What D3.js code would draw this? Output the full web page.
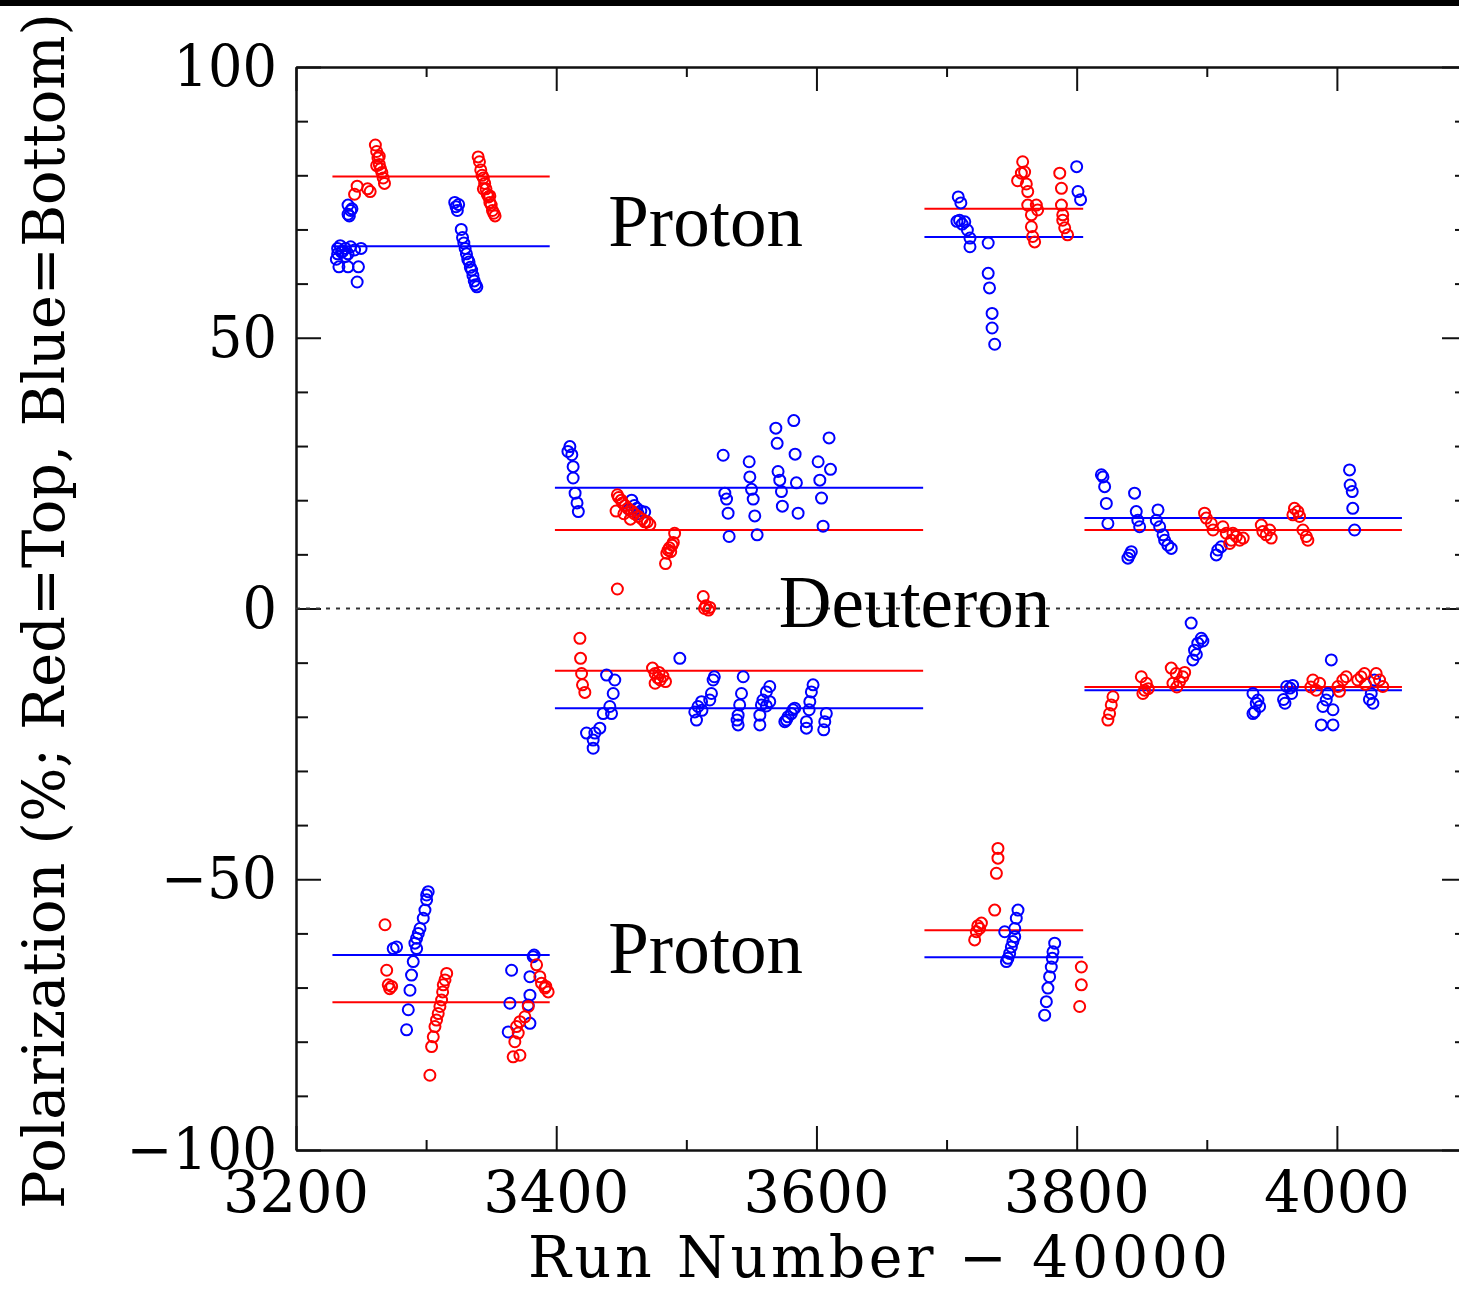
<!DOCTYPE html>
<html><head><meta charset="utf-8">
<script src="https://cdn.jsdelivr.net/npm/d3@7"></script>
<style>body{margin:0;background:#fff}svg{display:block}</style>
</head><body>
<svg id="c" width="1459" height="1290"></svg>
<script>
// ---- data ----
const xTicksMajor = [3200, 3400, 3600, 3800, 4000];
const xTicksMinor = [3300, 3500, 3700, 3900, 4100];
const yTicksMajor = [-100, -50, 0, 50, 100];
const yTicksMinor = [-90,-80,-70,-60,-40,-30,-20,-10,10,20,30,40,60,70,80,90];
const xLabel = "Run Number \u2212 40000";
const yLabel = "Polarization (%; Red=Top, Blue=Bottom)";
const annotations = [["Proton", 3440, 66.9], ["Deuteron", 3571, -3.4], ["Proton", 3440, -67.3]];

// mean lines: [runStart, runEnd, value]
const redMeans = [[3228,3395,79.8],[3683,3805,73.8],[3399,3682,14.5],[3399,3682,-11.5],[3806,4050,14.5],[3806,4050,-14.5],[3228,3395,-72.7],[3683,3805,-59.4]];
const blueMeans = [[3228,3395,66.9],[3683,3805,68.6],[3399,3682,22.3],[3399,3682,-18.4],[3806,4050,16.7],[3806,4050,-15.1],[3228,3395,-64.0],[3683,3805,-64.4]];

// measured points: [run, polarization]
const redPoints = [
 [3261,85.6],[3262,84.4],[3263,83.2],[3264,82.0],[3265,81.2],[3266,80.5],[3267,79.5],[3268,78.5],[3247,78.0],[3245,76.5],[3257,77.0],[3255,77.5],[3262,81.8],[3264,83.5],
 [3340,83.4],[3341,82.5],[3342,81],[3343,80],[3344,79.5],[3345,78.5],[3346,77.5],[3347,76.5],[3348,76],[3349,75],[3350,74.5],[3351,73.5],[3352,73],[3353,72.5],[3344,77.5],[3349,76.2],
 [3758.5,82.5],[3757.5,80.4],[3760,80.6],[3754.6,79.0],[3761.3,78.4],[3762.4,77.0],[3762.4,74.5],[3769,74.5],[3765.2,72.7],[3765.2,70.5],[3766.2,68.7],[3767.7,67.7],[3770,73.6],
 [3787,80.4],[3788.3,77.6],[3788.3,74.5],[3789.3,72.7],[3789.3,71.7],[3790.8,70.3],[3793,69.0],
 [3447,21],[3448,20.5],[3450,20],[3451,19.5],[3453,19],[3455,18.5],[3446,18],[3458,18],[3460,17.5],[3463,17],[3466,16.5],[3468,16],[3470,16],[3472,15.5],[3457,16.5],[3452,17.5],
 [3491,13.9],[3489,11.7],[3486,10.8],[3485,10.2],[3484,8.3],[3487,11.2],[3490,12.2],[3488,10.5],
 [3447,3.6],[3513,2.2],[3515,0.5],[3517,-0.3],[3514,0],[3518,0.2],
 [3418.2,-5.5],[3418.7,-9.2],[3419.5,-12.0],[3420.2,-14.1],[3422,-15.5],
 [3474,-11.0],[3476,-12],[3478,-12.8],[3480,-13.2],[3482,-12.5],[3484,-13.5],[3476,-13.8],[3479,-11.8],
 [3899.6,16.7],[3898.3,17.6],[3903.5,15.7],[3904.8,14.5],[3912.4,15.1],[3915,13.9],[3918.9,12.6],[3922.7,13.3],[3925.3,12.6],[3928,13.0],[3917.6,12.0],[3920.1,13.9],
 [3941.9,15.4],[3943.1,14.2],[3945.7,13.6],[3949.5,13.0],[3948.3,14.5],
 [3967.4,18.5],[3970,17.9],[3971.3,17.0],[3973.9,14.5],[3976.5,13.3],[3977.7,12.6],[3966.2,17.3],
 [3827.9,-16.3],[3826.6,-17.8],[3825.3,-19.4],[3824,-20.6],
 [3849.7,-12.6],[3853.5,-13.8],[3852.2,-15.1],[3850.9,-15.7],[3855,-14.8],
 [3872.7,-11.0],[3876.5,-12.0],[3874,-13.8],[3879.1,-13.5],[3881.6,-12.6],[3877,-14.5],[3883,-11.8],
 [3981.6,-13.2],[3986.7,-13.8],[3984.1,-15.1],[3980,-14.5],
 [4000.8,-14.4],[4004.6,-13.2],[4007.2,-12.6],[4002,-15.3],
 [4016,-13.2],[4018.6,-12.6],[4021.2,-12.0],[4022,-14.0],
 [4030.2,-12.0],[4032.8,-13.2],[4035.3,-14.4],
 [3268.4,-58.4],[3269.7,-66.8],[3270.9,-69.5],[3273.5,-69.8],[3272,-70.2],
 [3315.8,-67.4],[3314.5,-68.6],[3313.2,-69.5],[3312.7,-70.8],[3311.9,-72.3],[3310.6,-73.5],[3309.3,-74.8],[3308,-76.0],[3306.8,-77.2],[3305.5,-79.1],[3304.2,-80.9],[3302.9,-86.2],
 [3384.9,-65.8],[3387.4,-68.0],[3388.7,-69.2],[3391.3,-70.1],[3393.8,-70.8],[3392,-69.8],[3378.5,-73.5],[3375.9,-75.4],[3372.1,-76.3],[3369.5,-77.2],[3368.2,-80.0],[3366.9,-82.8],[3372.1,-82.5],[3370.8,-78.4],
 [3739.5,-44.3],[3739.5,-46.1],[3738.3,-48.9],[3737,-55.7],[3726.8,-58.1],[3725.4,-59.1],[3722.9,-59.7],[3721.6,-61.2],[3724,-58.6],
 [3803.6,-66.2],[3803.6,-69.5],[3802.3,-73.5]
];
const bluePoints = [
 [3240,74.5],[3242,73.5],[3241,72.5],[3243,73.8],[3240,72.8],
 [3232,66.5],[3234,67],[3236,66],[3238,66.5],[3240,65.5],[3242,66.8],[3235,65.8],[3245,66.2],[3250,66.5],[3231,64.5],[3233,63.1],[3240,63.1],[3248,63.1],[3247,60.3],[3238,65],[3232,65.5],
 [3322,75],[3323,74.2],[3324,73.5],[3325,74.6],
 [3327,70],[3328,68.5],[3329,67.5],[3330,66.5],[3331,65.5],[3332,64.5],[3333,64],[3334,63],[3335,62.5],[3336,61.5],[3337,60.5],[3338,59.8],[3339,59.4],
 [3709,76.0],[3711,74.9],[3710,71.7],[3714,71.4],[3716,69.9],[3718,68.4],[3718,66.8],[3732,67.5],[3732,61.9],[3733,59.2],[3735,54.5],[3735,51.8],[3737,48.8],[3712,71],[3708,71.5],
 [3800,81.6],[3801,77.0],[3803,75.5],
 [3410.5,29.9],[3409,29.0],[3412,28.4],[3413,26.2],[3413,24.1],[3414.5,21.3],[3416,19.5],[3417,17.9],
 [3458,20],[3460,19],[3462,18.5],[3465,18],[3463,17.5],[3468,17.8],[3456,18.3],
 [3528.3,28.3],[3529.6,21.3],[3530.9,20.2],[3532.1,17.6],[3532.9,13.3],
 [3548.3,27.1],[3548.8,24.3],[3550.1,22.0],[3551.4,20.2],[3552.6,17.1],[3554.4,13.6],
 [3568.8,33.3],[3569.8,30.5],[3582.6,34.7],[3583.6,28.5],[3570.5,25.3],[3571.8,23.7],[3573.1,21.6],[3573.8,18.9],[3584.6,23.2],[3585.9,17.6],
 [3601.3,27.1],[3602.6,23.7],[3603.9,20.4],[3605.1,15.2],[3609.7,31.5],[3610.8,25.7],
 [3438.7,-12.3],[3445,-13.2],[3443.8,-15.7],[3441.2,-18.1],[3436.1,-19.4],[3442.5,-19.4],
 [3423.3,-23.0],[3429.7,-23],[3433.5,-22.1],[3428.4,-24.3],[3428.4,-25.8],
 [3495,-9.2],
 [3521.5,-12.6],[3520.6,-13.2],[3519.3,-15.7],[3518,-16.9],[3511.7,-17.2],[3509,-18.1],[3506.5,-19.1],[3507.8,-20.6],[3512,-18.8],
 [3543.7,-12.6],[3542.4,-15.7],[3541,-17.8],[3539.8,-19.7],[3539.8,-21.5],[3539,-20.6],
 [3564.1,-14.4],[3561.5,-15.4],[3558.9,-16.9],[3557.7,-17.8],[3561.5,-18],[3556.5,-19.7],[3556.5,-21.5],[3564.1,-17.2],
 [3576.9,-20.6],[3578.1,-20],[3580.7,-19.4],[3582,-18.7],[3583.3,-18.4],[3575.7,-20.9],
 [3597.4,-14.1],[3596.1,-15.4],[3594.9,-17.2],[3594.4,-18.7],[3592.3,-20.9],[3592.3,-22.1],
 [3607.6,-19.4],[3606.4,-20.9],[3605.6,-22.4],
 [3820.2,24.3],[3821.5,22.5],[3822.8,19.4],[3824,15.7],[3819,24.7],
 [3844.5,21.3],[3845.8,17.9],[3847,16.3],[3848.4,15.1],[3840.7,9.9],[3839.4,9.3],[3842,10.5],
 [3862.5,18.2],[3861.2,16.3],[3863.8,15.1],[3866.4,13.6],[3867.6,12.6],[3870.1,11.7],[3872.7,11.1],
 [3908.5,10.8],[3907.3,9.9],[3911.1,11.4],
 [4009.7,25.6],[4010.2,22.8],[4011.8,21.6],[4012.2,18.5],[4013.6,14.5],
 [3888,-2.7],[3890.6,-7.7],[3893.1,-6.4],[3895.8,-5.5],[3889.3,-9.5],[3892,-8.5],[3897,-6.0],
 [3935.5,-15.7],[3939.3,-16.9],[3940.6,-18.1],[3936.8,-19.1],[3935.5,-19.4],[3938,-17.5],
 [3961.4,-14.4],[3964,-14.7],[3965.2,-15.7],[3960.1,-17.5],[3966,-14.2],[3959,-16.8],
 [3993.1,-15.7],[3989.3,-18.1],[3997,-18.7],[3988,-21.5],[3997,-21.5],[3995.7,-9.5],[3991.8,-16.9],
 [4026.4,-15.7],[4027.7,-17.5],[4025,-16.8],[4028.9,-13.2],
 [3301.6,-52.3],[3300.4,-52.9],[3300.4,-53.8],[3299.1,-55.7],[3297.8,-57.2],[3295.3,-59.1],[3294,-60.0],[3292.7,-60.9],[3291.4,-61.8],[3292.7,-62.8],[3290.1,-65.2],[3288.8,-67.7],[3287.6,-70.5],[3286.3,-74.1],[3285,-77.8],
 [3274.7,-62.8],[3277.3,-62.5],
 [3382.3,-64.3],[3383,-64.0],[3379.8,-68.0],[3379.8,-71.4],[3378.5,-73.2],[3379.8,-76.6],[3363.1,-78.2],[3365.7,-66.8],[3364.4,-72.9],
 [3754.9,-55.7],[3753.6,-57.2],[3752.4,-59.1],[3744.7,-59.7],[3752.4,-60.6],[3749.8,-62.5],[3748.5,-63.7],[3747.2,-64.6],[3746,-65.2],[3751,-61.5],
 [3783.1,-61.8],[3781.8,-63.4],[3781.3,-64.6],[3780.5,-66.2],[3779.2,-68.0],[3777.9,-70.1],[3776.7,-72.6],[3775.4,-75.1]
];

// ---- drawing ----
const svg = d3.select("#c");
const x = d3.scaleLinear().domain([3200, 4100]).range([296, 1467]);
const y = d3.scaleLinear().domain([-100, 100]).range([1150, 67]);
const serif = "'Liberation Serif','Times New Roman',serif";
const hershey = "'DejaVu Serif',serif";

svg.append("rect").attr("x",0).attr("y",0).attr("width",1459).attr("height",6).attr("fill","#000");

function styleAxis(g){ g.selectAll("path,line").attr("stroke","#111").attr("stroke-width",2); g.selectAll("text").remove(); }
const ax = [
  [d3.axisBottom(x).tickValues(xTicksMajor).tickSize(-24).tickSizeOuter(0), `translate(0,${y(-100)})`],
  [d3.axisBottom(x).tickValues(xTicksMinor).tickSize(-10).tickSizeOuter(0), `translate(0,${y(-100)})`],
  [d3.axisTop(x).tickValues(xTicksMajor).tickSize(-24).tickSizeOuter(0), `translate(0,${y(100)})`],
  [d3.axisTop(x).tickValues(xTicksMinor).tickSize(-10).tickSizeOuter(0), `translate(0,${y(100)})`],
  [d3.axisLeft(y).tickValues(yTicksMajor).tickSize(-25).tickSizeOuter(0), `translate(${x(3200)},0)`],
  [d3.axisLeft(y).tickValues(yTicksMinor).tickSize(-12).tickSizeOuter(0), `translate(${x(3200)},0)`],
  [d3.axisRight(y).tickValues(yTicksMajor).tickSize(-25).tickSizeOuter(0), `translate(${x(4100)},0)`],
  [d3.axisRight(y).tickValues(yTicksMinor).tickSize(-12).tickSizeOuter(0), `translate(${x(4100)},0)`]
];
ax.forEach(([a,t]) => svg.append("g").attr("transform",t).call(a).call(styleAxis));

// zero line
svg.append("line").attr("x1",x(3200)).attr("x2",x(4100)).attr("y1",y(0)).attr("y2",y(0))
  .attr("stroke","#333").attr("stroke-width",2).attr("stroke-dasharray","4,6");

// tick labels
const fmt = v => (v<0?"\u2212":"") + Math.abs(v);
svg.append("g").selectAll("text").data(xTicksMajor).join("text")
  .attr("x", d=>x(d)).attr("y", y(-100)+62).attr("text-anchor","middle")
  .attr("font-family",hershey).attr("font-size",57)
  .attr("textLength",146).attr("lengthAdjust","spacingAndGlyphs").text(fmt);
svg.append("g").selectAll("text").data(yTicksMajor).join("text")
  .attr("x", 277).attr("y", d=>y(d)+19).attr("text-anchor","end")
  .attr("font-family",hershey).attr("font-size",57)
  .attr("textLength", d=>String(Math.abs(d)).length*34.5 + (d<0?47:0)).attr("lengthAdjust","spacingAndGlyphs").text(fmt);

// axis titles
svg.append("text").attr("x",878).attr("y",1277).attr("text-anchor","middle")
  .attr("font-family",hershey).attr("font-size",57).attr("textLength",700).attr("lengthAdjust","spacing").text(xLabel);
svg.append("text").attr("transform","translate(64,611) rotate(-90)").attr("text-anchor","middle")
  .attr("font-family",hershey).attr("font-size",57).attr("textLength",1196).attr("lengthAdjust","spacingAndGlyphs").text(yLabel);

// mean lines
const means = redMeans.map(d=>[...d,"#ff0000"]).concat(blueMeans.map(d=>[...d,"#0000ff"]));
svg.append("g").selectAll("line").data(means).join("line")
  .attr("x1",d=>x(d[0])).attr("x2",d=>x(d[1])).attr("y1",d=>y(d[2])).attr("y2",d=>y(d[2]))
  .attr("stroke",d=>d[3]).attr("stroke-width",2);

// points
function drawPts(data,color){
  svg.append("g").selectAll("circle").data(data).join("circle")
    .attr("cx",d=>x(d[0])).attr("cy",d=>y(d[1])).attr("r",5.5)
    .attr("fill","none").attr("stroke",color).attr("stroke-width",2);
}
drawPts(bluePoints,"#0000ff");
drawPts(redPoints,"#ff0000");

// annotations
svg.append("g").selectAll("text").data(annotations).join("text")
  .attr("x",d=>x(d[1])).attr("y",d=>y(d[2])).attr("font-family",serif).attr("font-size",73)
  .attr("fill","#000").text(d=>d[0]);
</script>
</body></html>
